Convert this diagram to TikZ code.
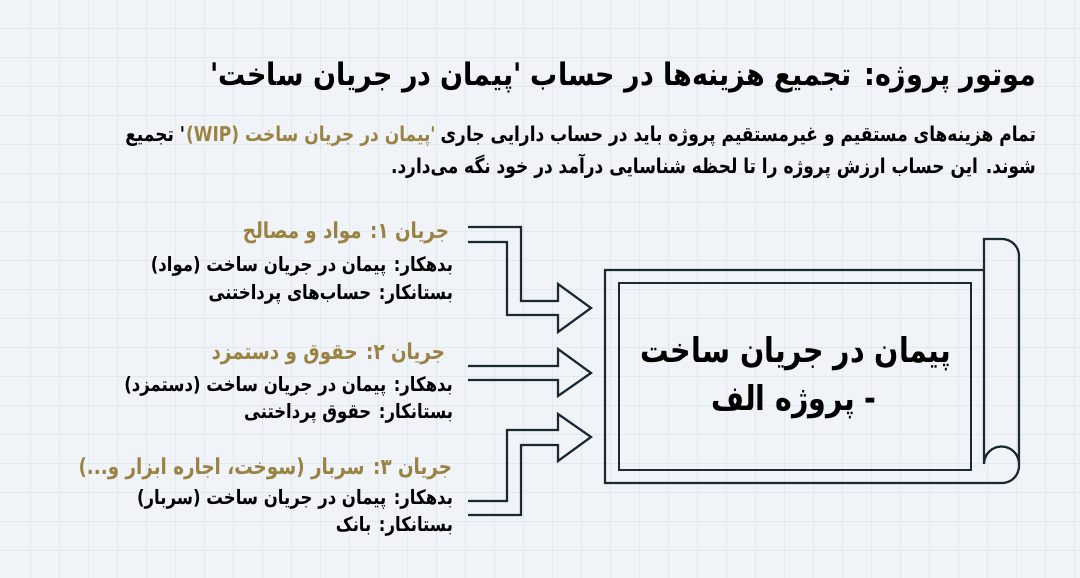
\documentclass[tikz,border=0pt]{standalone}
\usepackage{graphicx}
\usepackage{fontspec}
\newfontfamily\fa[Script=Arabic]{DejaVu Sans}
\TeXXeTstate=1
\newcommand\rtl[2][1.2]{\scalebox{1}[#1]{\beginR #2\endR}}
\definecolor{bg}{HTML}{F0F3F7}
\definecolor{gridc}{HTML}{E3E8EE}
\definecolor{ink}{HTML}{1B2836}
\definecolor{gold}{HTML}{9A8342}
\begin{document}
\begin{tikzpicture}[x=1pt,y=-1pt,
  txt/.style={inner sep=0pt, outer sep=0pt, anchor=base east, text=black, font=\fa\bfseries},
  ttl/.style={txt, font=\fa\bfseries\fontsize{27}{30}\selectfont},
  para/.style={txt, font=\fa\bfseries\fontsize{17}{20}\selectfont},
  hd/.style={txt, text=gold, font=\fa\bfseries\fontsize{18.3}{22}\selectfont},
  ln/.style={txt, font=\fa\bfseries\fontsize{16.5}{20}\selectfont},
  big/.style={inner sep=0pt, anchor=base, text=black, font=\fa\bfseries\fontsize{28.5}{36}\selectfont},
  outl/.style={draw=ink, line width=2.2pt, line join=miter}
]
\useasboundingbox (0,0) rectangle (1080,578);
\fill[bg] (0,0) rectangle (1080,578);
\foreach \gx in {30,59,...,1080} \draw[gridc, line width=0.7pt] (\gx,0) -- (\gx,578);
\foreach \gy in {28,57,...,578} \draw[gridc, line width=0.7pt] (0,\gy) -- (1080,\gy);

% title and paragraph
\node[ttl] (title) at (1036,85) {\rtl[1.15]{موتور پروژه: تجمیع هزینه‌ها در حساب 'پیمان در جریان ساخت'}};
\node[para] (p1a) at (1036,141) {\rtl{تمام هزینه‌های مستقیم و غیرمستقیم پروژه باید در حساب دارایی جاری}};
\node[para, text=gold] (p1b) at ([xshift=-5pt]p1a.base west) {\rtl{'پیمان در جریان ساخت \beginL(WIP)\endL}};
\node[para] (p1c) at ([xshift=-1pt]p1b.base west) {\rtl{' تجمیع}};
\node[para] (p2) at (1036,173) {\rtl{شوند. این حساب ارزش پروژه را تا لحظه شناسایی درآمد در خود نگه می‌دارد.}};

% flow 1
\node[hd] (h1) at (449,238) {\rtl{جریان ۱: مواد و مصالح}};
\node[ln] (d1) at (453,271) {\rtl{بدهکار: پیمان در جریان ساخت (مواد)}};
\node[ln] (c1) at (453,299) {\rtl{بستانکار: حساب‌های پرداختنی}};
% flow 2
\node[hd] (h2) at (445,359) {\rtl{جریان ۲: حقوق و دستمزد}};
\node[ln] (d2) at (453,391) {\rtl{بدهکار: پیمان در جریان ساخت (دستمزد)}};
\node[ln] (c2) at (453,418) {\rtl{بستانکار: حقوق پرداختنی}};
% flow 3
\node[hd] (h3) at (452,474) {\rtl{جریان ۳: سربار (سوخت، اجاره ابزار و...)}};
\node[ln] (d3) at (453,504) {\rtl{بدهکار: پیمان در جریان ساخت (سربار)}};
\node[ln] (c3) at (453,531) {\rtl{بستانکار: بانک}};

% arrows
\draw[outl] (468,227) -- (521,227) -- (521,301) -- (558,301) -- (558,284) -- (591,308)
  -- (558,332) -- (558,315) -- (507,315) -- (507,242) -- (468,242);
\draw[outl] (468,366) -- (558,366) -- (558,349) -- (591,373) -- (558,396) -- (558,380) -- (468,380);
\draw[outl] (468,501) -- (507,501) -- (507,430) -- (558,430) -- (558,414) -- (591,437)
  -- (558,461) -- (558,445) -- (521,445) -- (521,515) -- (468,515);

% scroll
\draw[outl] (984,270) -- (605,270) -- (605,483) -- (1002,483) arc (90:0:17) -- (1019,256)
  arc (0:-90:17) -- (984,239) -- (984,464) arc (180:360:17.5);
\draw[outl] (619,283) rectangle (971,470);
\node[big] (w1) at (796,362) {\rtl{پیمان در جریان ساخت}};
\node[big] (w2) at (794,410) {\rtl{- پروژه الف}};
\end{tikzpicture}
\end{document}
